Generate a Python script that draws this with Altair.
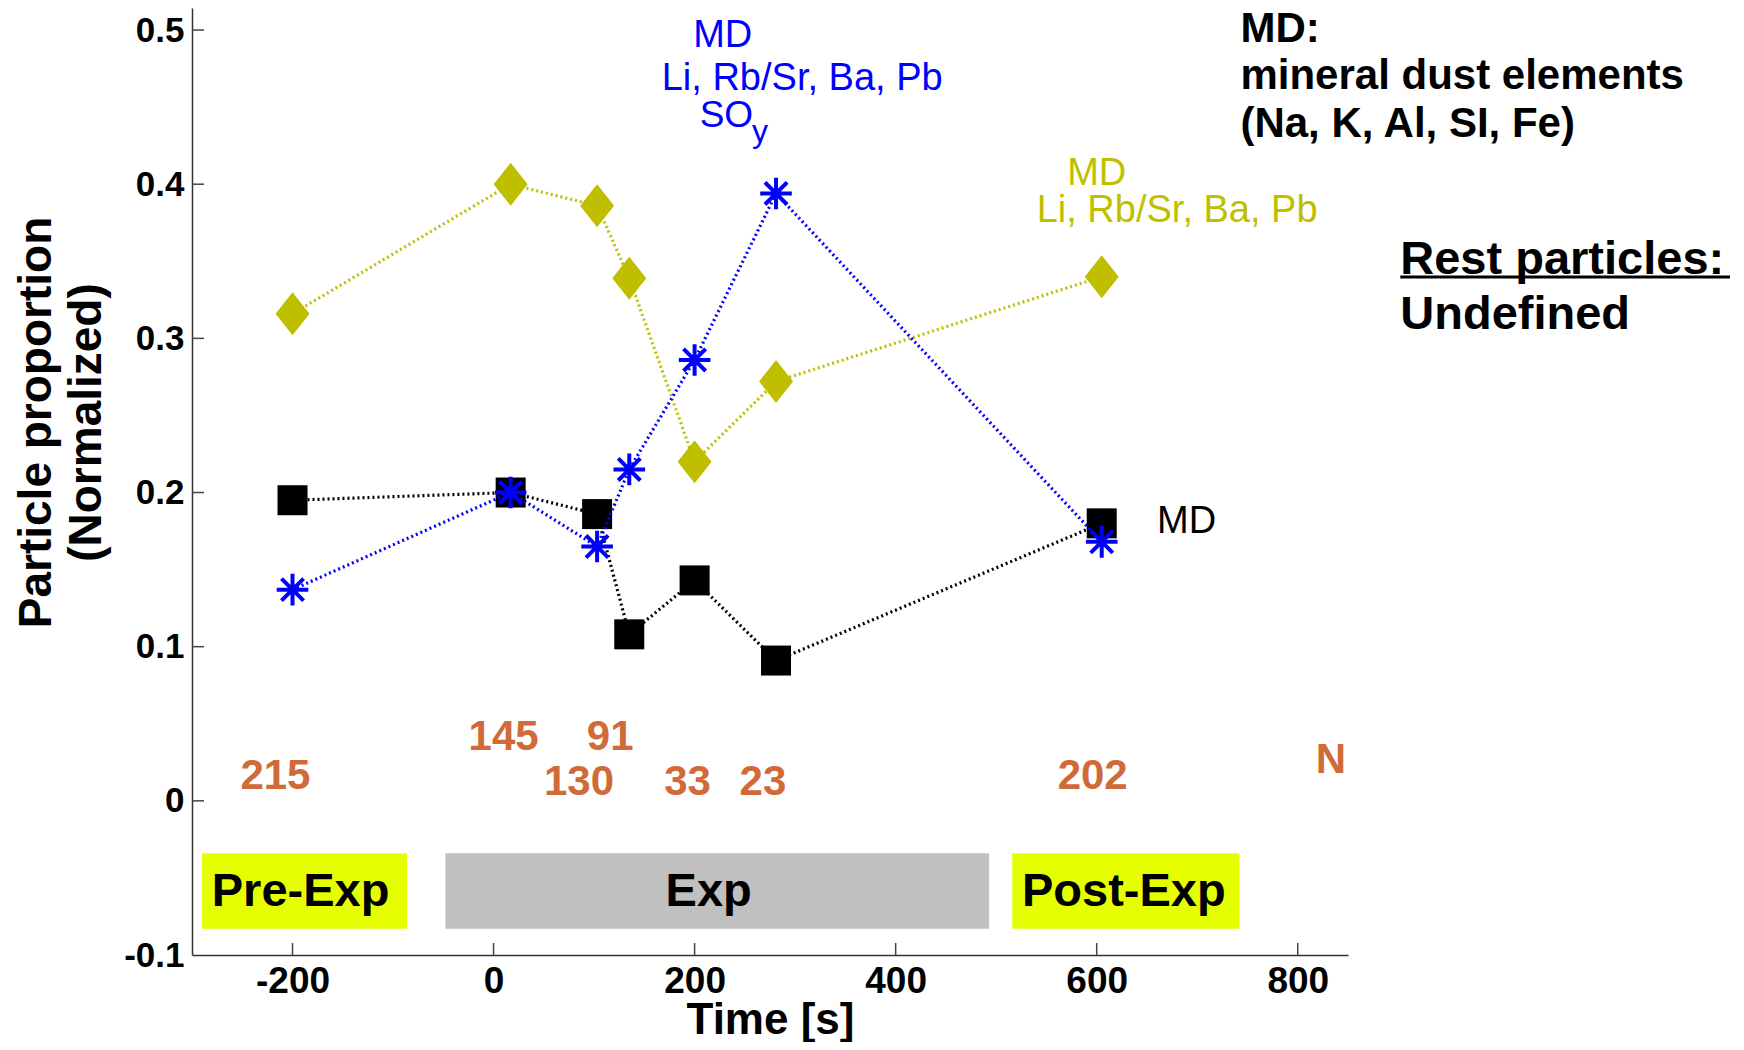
import altair as alt
import pandas as pd

FONT = "Liberation Sans, Arial, Helvetica, sans-serif"

# ---- data ----
time_s = [-200, 17, 103, 135, 200, 281, 605]
md = [0.195, 0.200, 0.186, 0.108, 0.143, 0.091, 0.180]
md_trace_soy = [0.137, 0.200, 0.165, 0.215, 0.286, 0.394, 0.168]
md_trace = [0.316, 0.400, 0.386, 0.339, 0.220, 0.272, 0.340]

# particle counts N shown under the curves
n_text = ["215", "145", "91", "130", "33", "23", "202", "N"]
n_x = [-217, 10, 116, 85, 193, 268, 596, 833]
n_y = [0.008, 0.033, 0.033, 0.004, 0.004, 0.004, 0.008, 0.018]

# experiment phases
phase_name = ["Pre-Exp", "Exp", "Post-Exp"]
phase_start = [-290, -48, 516]
phase_end = [-86, 493, 742]
phase_top = [-0.034, -0.034, -0.034]
phase_bottom = [-0.083, -0.083, -0.083]
phase_label_x = [-192, 214, 627]
phase_label_y = [-0.0685, -0.0685, -0.0685]

# annotation texts (data coordinates)
blue_text = ["MD", "Li, Rb/Sr, Ba, Pb"]
blue_x = [228, 307]
blue_y = [0.4888, 0.4608]
so_text = ["SO"]
so_x = [205]
so_y = [0.437]
sub_text = ["y"]
sub_x = [257]
sub_y = [0.4275]
yellow_text = ["MD", "Li, Rb/Sr, Ba, Pb"]
yellow_x = [600, 680]
yellow_y = [0.3992, 0.3754]
legend_text = ["MD:", "mineral dust elements", "(Na, K, Al, SI, Fe)"]
legend_x = [743, 743, 743]
legend_y = [0.4925, 0.4619, 0.4305]
rest_text = ["Rest particles:", "Undefined"]
rest_x = [902, 902]
rest_y = [0.342, 0.3063]
underline_x = [902]
underline_x2 = [1230]
underline_y = [0.3398]
md_label_text = ["MD"]
md_label_x = [660]
md_label_y = [0.1739]

x_ticks = [-200, 0, 200, 400, 600, 800]
y_ticks = [-0.1, 0.0, 0.1, 0.2, 0.3, 0.4, 0.5]

W, H = 1156, 947
xs = alt.Scale(domain=[-300, 850], nice=False, zero=False)
ys = alt.Scale(domain=[-0.1, 0.5143], nice=False, zero=False)

BLUE = "#0000FF"
OLIVE = "#BFBF00"
ORANGE = "#D06A38"

x_axis = alt.Axis(
    values=x_ticks, ticks=False, grid=False,
    labelExpr="datum.value < 0 ? '-' + format(-datum.value, 'd') : format(datum.value, 'd')",
    labelFont=FONT, labelFontSize=37, labelFontWeight="bold", labelColor="black",
    labelBaseline="alphabetic", labelPadding=37, labelFlush=False,
    domainColor="#333333", domainWidth=1.5,
    title="Time [s]", titleFont=FONT, titleFontSize=44, titleFontWeight="bold",
    titleColor="black", titleBaseline="alphabetic", titleY=78,
)
y_axis = alt.Axis(
    values=y_ticks, ticks=False, grid=False,
    labelExpr="datum.value < 0 ? '-' + format(-datum.value, '~g') : format(datum.value, '~g')",
    labelFont=FONT, labelFontSize=35, labelFontWeight="bold", labelColor="black",
    labelPadding=8, labelFlush=False,
    domainColor="#333333", domainWidth=1.5,
    title=["Particle proportion", "(Normalized)"], titleFont=FONT, titleFontSize=46,
    titleFontWeight="bold", titleColor="black", titleLineHeight=50,
    titleAngle=270, titleAlign="center", titleBaseline="middle",
    titleX=-156, titleY=414,
)

X = alt.X("x:Q", scale=xs, axis=x_axis)
Y = alt.Y("y:Q", scale=ys, axis=y_axis)

# phase boxes
phases = pd.DataFrame({
    "name": phase_name, "x": phase_start, "x2": phase_end,
    "y": phase_top, "y2": phase_bottom,
})
boxes = alt.Chart(phases).mark_rect().encode(
    x=X, x2="x2:Q", y=Y, y2="y2:Q",
    color=alt.Color("name:N", legend=None,
                    scale=alt.Scale(domain=phase_name, range=["#E5FF00", "#C0C0C0", "#E5FF00"])),
)
box_labels = alt.Chart(pd.DataFrame({"t": phase_name, "x": phase_label_x, "y": phase_label_y})).mark_text(
    font=FONT, fontSize=47, fontWeight="bold", color="black",
    align="center", baseline="alphabetic",
).encode(x=X, y=Y, text="t:N")

# inward ticks
xt = alt.Chart(pd.DataFrame({"x": x_ticks})).mark_rule(color="#444444", strokeWidth=1.5).encode(
    x=X, y=alt.value(H), y2=alt.value(H - 12)
)
yt = alt.Chart(pd.DataFrame({"y": y_ticks[1:]})).mark_rule(color="#444444", strokeWidth=1.5).encode(
    y=Y, x=alt.value(0), x2=alt.value(12)
)


def series(values, color, shape, size, filled, stroke_w):
    df = pd.DataFrame({"x": time_s, "y": values})
    line = alt.Chart(df).mark_line(
        color=color, strokeWidth=3.2, strokeDash=[2, 3]
    ).encode(x=X, y=Y)
    if filled:
        pts = alt.Chart(df).mark_point(
            shape=shape, size=size, filled=True, color=color, opacity=1
        )
    else:
        pts = alt.Chart(df).mark_point(
            shape=shape, size=size, filled=False, color=color, strokeWidth=stroke_w, opacity=1
        )
    pts = pts.encode(x=X, y=Y)
    return line + pts


black_s = series(md, "black", "square", 900, True, 0)
olive_s = series(md_trace, OLIVE, "M0,-1L0.79,0L0,1L-0.79,0Z", 1849, True, 0)
blue_s = series(md_trace_soy, BLUE,
                "M0,-1L0,1M-1,0L1,0M-0.7,-0.7L0.7,0.7M-0.7,0.7L0.7,-0.7", 1000, False, 4)


def texts(labels, xv, yv, color, size, weight, align):
    df = pd.DataFrame({"t": labels, "x": xv, "y": yv})
    return alt.Chart(df).mark_text(
        font=FONT, fontSize=size, fontWeight=weight, color=color,
        align=align, baseline="alphabetic",
    ).encode(x=X, y=Y, text="t:N")


n_layer = texts(n_text, n_x, n_y, ORANGE, 42, "bold", "center")
blue_layer = texts(blue_text, blue_x, blue_y, BLUE, 38, "normal", "center")
so_layer = texts(so_text, so_x, so_y, BLUE, 37, "normal", "left")
sub_layer = texts(sub_text, sub_x, sub_y, BLUE, 32, "normal", "left")
yellow_layer = texts(yellow_text, yellow_x, yellow_y, OLIVE, 38, "normal", "center")
legend_layer = texts(legend_text, legend_x, legend_y, "black", 42, "bold", "left")
rest_layer = texts(rest_text, rest_x, rest_y, "black", 47, "bold", "left")
md_label_layer = texts(md_label_text, md_label_x, md_label_y, "black", 38, "normal", "left")

underline = alt.Chart(pd.DataFrame({"x": underline_x, "x2": underline_x2, "y": underline_y})).mark_rule(
    color="black", strokeWidth=3
).encode(x=X, x2="x2:Q", y=Y)

chart = alt.layer(
    boxes, box_labels, xt, yt,
    black_s, olive_s, blue_s,
    n_layer, blue_layer, so_layer, sub_layer, yellow_layer,
    legend_layer, rest_layer, underline, md_label_layer,
).properties(
    width=W, height=H,
    autosize=alt.AutoSizeParams(type="none"),
    padding={"left": 184, "top": 0, "right": 388, "bottom": 87},
    background="white",
).configure_view(stroke=None)

chart.save("out.html", embed_options={"renderer": "svg", "actions": False})
